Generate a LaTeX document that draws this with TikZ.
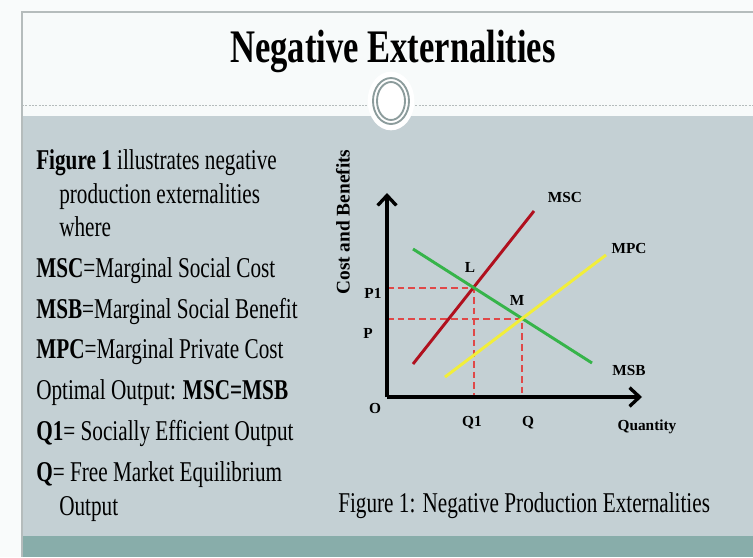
\documentclass[tikz,border=0pt]{standalone}
\usepackage{fontspec}
\setmainfont[FakeStretch=0.74]{Liberation Serif}
\newfontfamily\plotfont{Liberation Serif}
\usetikzlibrary{arrows.meta}
\definecolor{pagewhite}{HTML}{F9FBFB}
\definecolor{headwhite}{HTML}{F7FAFA}
\definecolor{slidegray}{HTML}{C4D0D4}
\definecolor{bandteal}{HTML}{88ADAA}
\definecolor{framegray}{HTML}{B5BCBC}
\definecolor{ringgray}{HTML}{8C9C9C}
\definecolor{msccol}{HTML}{B0101E}
\definecolor{msbcol}{HTML}{36B44A}
\definecolor{mpccol}{HTML}{F2EE3A}
\definecolor{dashcol}{HTML}{E04848}
\begin{document}
\begin{tikzpicture}[x=0.75pt,y=-0.75pt,
  axis/.style={line width=2.5pt,-{Straight Barb[length=7.5pt,width=14pt]}},
  curve/.style={line width=2.2pt},
  guide/.style={draw=dashcol,line width=1pt,dash pattern=on 5pt off 3pt},
  lbl/.style={inner sep=0pt,font=\plotfont\bfseries\fontsize{11.5}{13}\selectfont},
  bodytext/.style={anchor=base west,inner sep=0pt,font=\fontsize{21.5}{25}\selectfont}]
  \useasboundingbox (0,0) rectangle (753,557);
  % slide
  \fill[pagewhite] (0,0) rectangle (753,557);
  \fill[headwhite] (22,12) rectangle (753,116);
  \fill[slidegray] (22,116) rectangle (753,536);
  \fill[bandteal] (22,536) rectangle (753,557);
  \draw[framegray,line width=1.2pt] (753,12) -- (22,12) -- (22,557);
  \draw[framegray,line width=0.7pt,dash pattern=on 1.5pt off 1pt] (22,105) -- (753,105);
  \fill[white] (391,101) ellipse [x radius=17.5pt,y radius=22pt];
  \draw[ringgray,line width=1.4pt] (391,101) ellipse [x radius=13.5pt,y radius=17.25pt];
  \draw[ringgray,line width=1.4pt] (391,101) ellipse [x radius=10.5pt,y radius=14.25pt];
  \node[anchor=base,inner sep=0pt,font=\fontsize{35}{40}\selectfont\bfseries] (title) at (393,62) {Negative Externalities};

  % left text
  \node[bodytext] (txt1) at (36,169) {\textbf{Figure 1} illustrates negative};
  \node[bodytext] (txt2) at (59,203) {production externalities};
  \node[bodytext] (txt3) at (59,236) {where};
  \node[bodytext] (txt4) at (36,277) {\textbf{MSC}=Marginal Social Cost};
  \node[bodytext] (txt5) at (36,318) {\textbf{MSB}=Marginal Social Benefit};
  \node[bodytext] (txt6) at (36,358) {\textbf{MPC}=Marginal Private Cost};
  \node[bodytext] (txt7) at (36,399) {Optimal Output: \textbf{MSC=MSB}};
  \node[bodytext] (txt8) at (36,440) {\textbf{Q1}= Socially Efficient Output};
  \node[bodytext] (txt9) at (36,481) {\textbf{Q}= Free Market Equilibrium};
  \node[bodytext] (txt10) at (59,515) {Output};
  \node[bodytext] (caption) at (338,512) {Figure 1: Negative Production Externalities};

  % graph
  \coordinate (O) at (387,397);
  \coordinate (L) at (474,288);
  \coordinate (M) at (522,319);
  \draw[guide] (O |- L) -- (L) -- (L |- O);
  \draw[guide] (O |- M) -- (M) -- (M |- O);
  \draw[curve,msccol] (413,364) -- (534,211);
  \draw[curve,msbcol] (413,249) -- (592,363);
  \draw[curve,mpccol] (445,377) -- (606,255);
  \draw[axis] (O) -- (387,193);
  \draw[axis] (O) -- (642,397);

  \node[inner sep=0pt,rotate=90,font=\plotfont\bfseries\fontsize{14.5}{16}\selectfont] (ylbl) at (343,222) {Cost and Benefits};
  \node[lbl] (lblP1) at (373,293) {P1};
  \node[lbl] (lblP) at (368,333) {P};
  \node[lbl] (lblO) at (375,408) {O};
  \node[lbl] (lblQ1) at (472,423) {Q1};
  \node[lbl] (lblQ) at (528,423) {Q};
  \node[lbl] (xlbl) at (647,427) {Quantity};
  \node[lbl] (lblMSC) at (565,197) {MSC};
  \node[lbl] (lblMPC) at (629,248) {MPC};
  \node[lbl] (lblMSB) at (629,370) {MSB};
  \node[lbl] (lblL) at (470,267) {L};
  \node[lbl] (lblM) at (517,300) {M};
\end{tikzpicture}
\end{document}
